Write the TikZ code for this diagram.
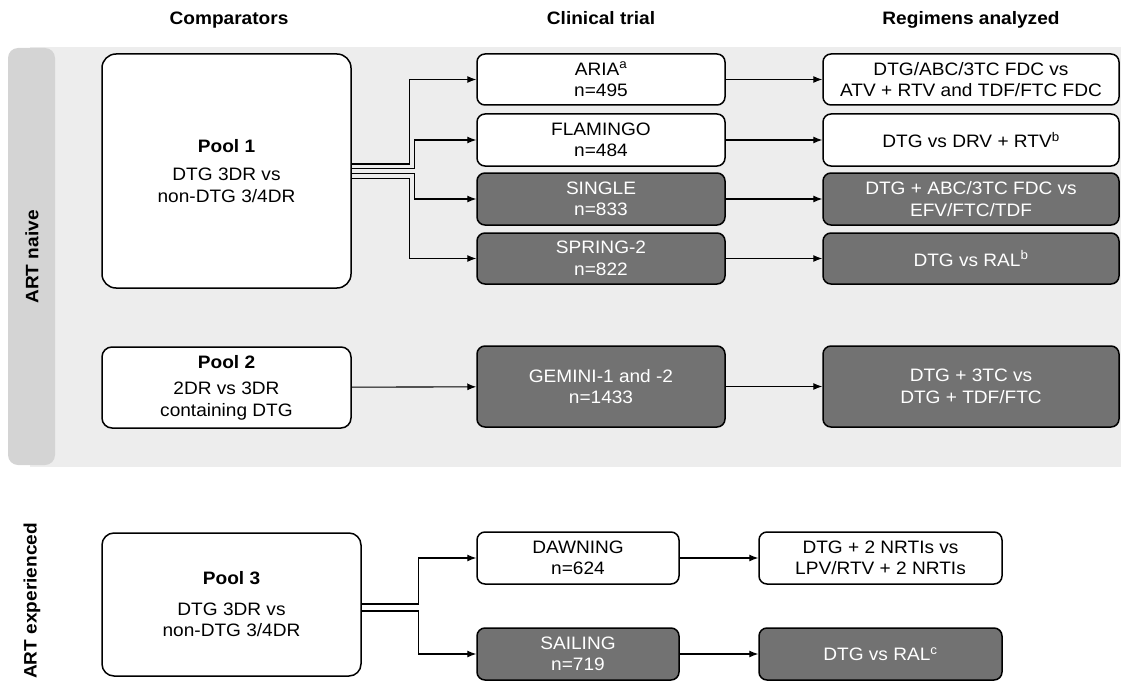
\documentclass[tikz,border=0pt]{standalone}
\usepackage{fontspec}
\setmainfont{Liberation Sans}[FakeStretch=1.06]
\usetikzlibrary{arrows.meta}
\definecolor{panelgray}{HTML}{EDEDED}
\definecolor{bandgray}{HTML}{D4D4D4}
\definecolor{boxgray}{HTML}{727272}
\newcommand\bodysize{\fontsize{18}{21.5}\selectfont}
\tikzset{
  box/.style={draw, line width=1.5pt, rounded corners=8pt, fill=white, align=center, inner sep=0pt},
  dark/.style={box, fill=boxgray, text=white},
  arr/.style={>={Latex[length=9pt,width=7pt]}, ->, line width=1.1pt},
  hdr/.style={font=\bodysize\bfseries, anchor=base}
}
\begin{document}
\begin{tikzpicture}[x=1pt,y=-1pt,font=\bodysize]
\useasboundingbox (0,0) rectangle (1121,682);
% background
\fill [panelgray] (30,47) rectangle (1121,467);
\fill [bandgray, rounded corners=10pt] (8,48) rectangle (55,465);

% headers
\node [hdr] (hcomp) at (229,25) {Comparators};
\node [hdr] (htrial) at (601,25) {Clinical trial};
\node [hdr] (hreg) at (971,25) {Regimens analyzed};
\node [rotate=90, font=\bodysize\bfseries] (naive) at (32,257) {ART naive};
\node [rotate=90, font=\bodysize\bfseries] (exper) at (32,601) {ART experienced};

% comparators
\node [box, rounded corners=14pt, minimum width=249, minimum height=234] (pool1) at (226.5,171)
  {\textbf{Pool 1}\\[7pt]DTG 3DR vs\\non-DTG 3/4DR};
\node [box, rounded corners=10pt, minimum width=249, minimum height=81] (pool2) at (226.5,387.5)
  {\textbf{Pool 2}\\[5pt]2DR vs 3DR\\containing DTG};
\node [box, rounded corners=12pt, minimum width=259, minimum height=143] (pool3) at (231.5,604.5)
  {\textbf{Pool 3}\\[9pt]DTG 3DR vs\\non-DTG 3/4DR};

% trials
\node [box, minimum width=248, minimum height=51] (aria) at (601,79.5) {ARIA\textsuperscript{a}\\n=495};
\node [box, minimum width=248, minimum height=52] (flamingo) at (601,140) {FLAMINGO\\n=484};
\node [dark, minimum width=248, minimum height=52] (single) at (601,199) {SINGLE\\n=833};
\node [dark, minimum width=248, minimum height=51] (spring) at (601,258.5) {SPRING-2\\n=822};
\node [dark, minimum width=248, minimum height=81] (gemini) at (601,386.5) {GEMINI-1 and -2\\n=1433};
\node [box, minimum width=202, minimum height=52] (dawning) at (578,558) {DAWNING\\n=624};
\node [dark, minimum width=202, minimum height=52] (sailing) at (578,654) {SAILING\\n=719};

% regimens
\node [box, minimum width=296, minimum height=51] (regaria) at (971,79.5)
  {DTG/ABC/3TC FDC vs\\ATV + RTV and TDF/FTC FDC};
\node [box, minimum width=296, minimum height=52] (regflam) at (971,140) {DTG vs DRV + RTV\textsuperscript{b}};
\node [dark, minimum width=296, minimum height=52] (regsingle) at (971,199) {DTG + ABC/3TC FDC vs\\EFV/FTC/TDF};
\node [dark, minimum width=296, minimum height=51] (regspring) at (971,258.5) {DTG vs RAL\textsuperscript{b}};
\node [dark, minimum width=296, minimum height=81] (reggemini) at (971,386.5) {DTG + 3TC vs\\DTG + TDF/FTC};
\node [box, minimum width=243, minimum height=52] (regdawning) at (880.5,558) {DTG + 2 NRTIs vs\\LPV/RTV + 2 NRTIs};
\node [dark, minimum width=243, minimum height=52] (regsailing) at (880.5,654) {DTG vs RAL\textsuperscript{c}};

% pool 1 fan
\draw [arr] ([yshift=7pt]pool1.east) -- ++(58,0) |- (aria.west);
\draw [arr] ([yshift=2.5pt]pool1.east) -- ++(63,0) |- (flamingo.west);
\draw [arr] ([yshift=-2.5pt]pool1.east) -- ++(63,0) |- (single.west);
\draw [arr] ([yshift=-7.5pt]pool1.east) -- ++(58,0) |- (spring.west);
\draw [arr] (pool2) -- (gemini);
% pool 3 fan
\draw [arr] ([yshift=0.5pt]pool3.east) -- ++(57,0) |- (dawning.west);
\draw [arr] ([yshift=-6.5pt]pool3.east) -- ++(57,0) |- (sailing.west);

% trial to regimen
\draw [arr] (aria) -- (regaria);
\draw [arr] (flamingo) -- (regflam);
\draw [arr] (single) -- (regsingle);
\draw [arr] (spring) -- (regspring);
\draw [arr] (gemini) -- (reggemini);
\draw [arr] (dawning) -- (regdawning);
\draw [arr] (sailing) -- (regsailing);
\end{tikzpicture}
\end{document}
